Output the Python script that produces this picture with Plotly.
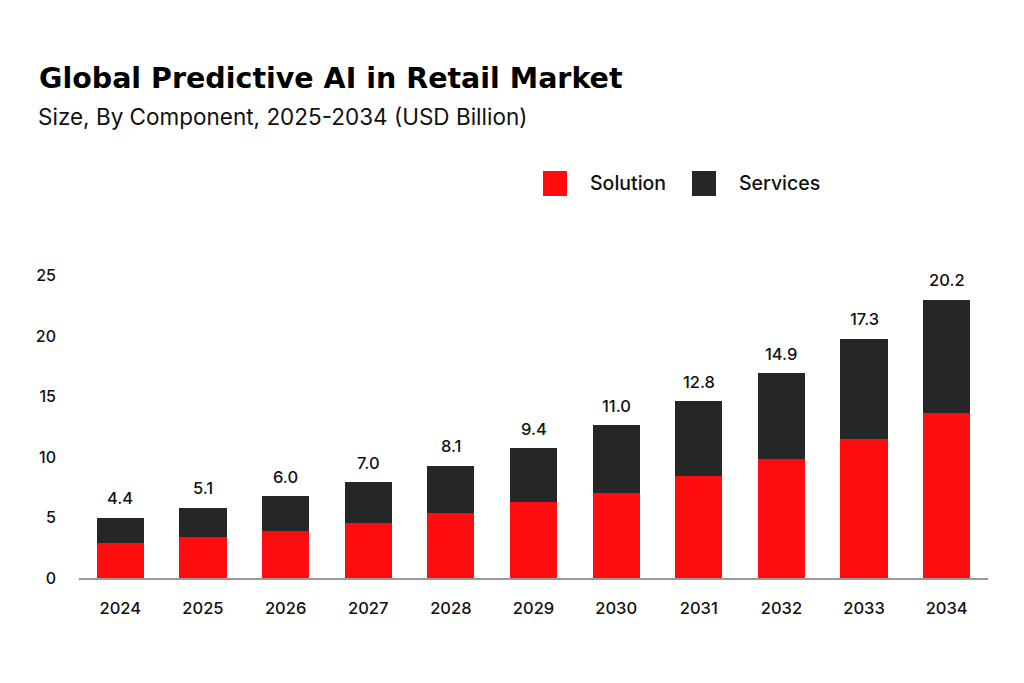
import plotly.graph_objects as go

years = ["2024", "2025", "2026", "2027", "2028", "2029", "2030", "2031", "2032", "2033", "2034"]
solution = [2.89, 3.39, 3.88, 4.57, 5.37, 6.31, 7.02, 8.45, 9.86, 11.49, 13.66]
services = [2.07, 2.40, 2.86, 3.36, 3.89, 4.43, 5.59, 6.15, 7.08, 8.29, 9.34]
total_labels = ["4.4", "5.1", "6.0", "7.0", "8.1", "9.4", "11.0", "12.8", "14.9", "17.3", "20.2"]
series_names = ["Solution", "Services"]
colors = ["#ff0d0e", "#252626"]
y_ticks = [0, 5, 10, 15, 20, 25]

FONT = "Inter"
TXT = "#111111"

# page body has an 8px margin; figure coordinates = reference pixels - 8
OFF = 8
FW, FH = 1024 - 2 * OFF, 683 - 2 * OFF
L, R, T, B = 79 - OFF, 988 - OFF, 262 - OFF, 578 - OFF
W, H = R - L, B - T
def px(x):
    return (x - OFF - L) / W
def py(y):
    return (B - (y - OFF)) / H

fig = go.Figure()
fig.add_trace(go.Bar(x=years, y=solution, name=series_names[0],
                     marker=dict(color=colors[0], line=dict(width=0)), width=0.57))
fig.add_trace(go.Bar(x=years, y=services, name=series_names[1],
                     marker=dict(color=colors[1], line=dict(width=0)), width=0.57))

totals = [a + b for a, b in zip(solution, services)]
annotations = []
for i, (tot, lab) in enumerate(zip(totals, total_labels)):
    annotations.append(dict(x=i, y=tot, xref="x", yref="y", text=lab, showarrow=False,
                            yanchor="middle", yshift=19.5,
                            font=dict(family=FONT, size=16.5, color=TXT, weight=500)))

annotations.append(dict(x=px(37), y=py(78), xref="paper", yref="paper", xanchor="left", yanchor="middle",
                        text="<b>Global Predictive AI in Retail Market</b>", showarrow=False,
                        font=dict(family="DejaVu Sans", size=28.5, color="#000000")))
annotations.append(dict(x=px(36), y=py(116), xref="paper", yref="paper", xanchor="left", yanchor="middle",
                        text="Size, By Component, 2025-2034 (USD Billion)", showarrow=False,
                        font=dict(family=FONT, size=22.5, color=TXT)))

shapes = []
legend_boxes = [(543, 588), (692, 737)]
for (sx, tx), name, col in zip(legend_boxes, series_names, colors):
    shapes.append(dict(type="rect", xref="paper", yref="paper", x0=px(sx), x1=px(sx + 24),
                       y0=py(196), y1=py(171), fillcolor=col, line=dict(width=0)))
    annotations.append(dict(x=px(tx), y=py(183), xref="paper", yref="paper", xanchor="left",
                            yanchor="middle", text=name, showarrow=False,
                            font=dict(family=FONT, size=19.5, color=TXT, weight=500)))

fig.update_layout(
    width=FW, height=FH,
    barmode="stack",
    showlegend=False,
    plot_bgcolor="white", paper_bgcolor="white",
    margin=dict(l=L, r=FW - R, t=T, b=FH - B, pad=0),
    annotations=annotations,
    shapes=shapes,
    font=dict(family=FONT, color=TXT),
)
fig.update_xaxes(type="category", showgrid=False, showline=True, linecolor="#9a9a9a", linewidth=1.5,
                 ticks="", tickfont=dict(family=FONT, size=16.5, color=TXT, weight=500),
                 ticklabelstandoff=14, range=[-0.5, 10.5])
fig.update_yaxes(showgrid=False, showline=False, zeroline=False, ticks="",
                 range=[0, H / 12.1], tickvals=y_ticks,
                 tickfont=dict(family=FONT, size=16, color=TXT, weight=500),
                 ticklabelstandoff=22)

fig.write_html("out.html")
